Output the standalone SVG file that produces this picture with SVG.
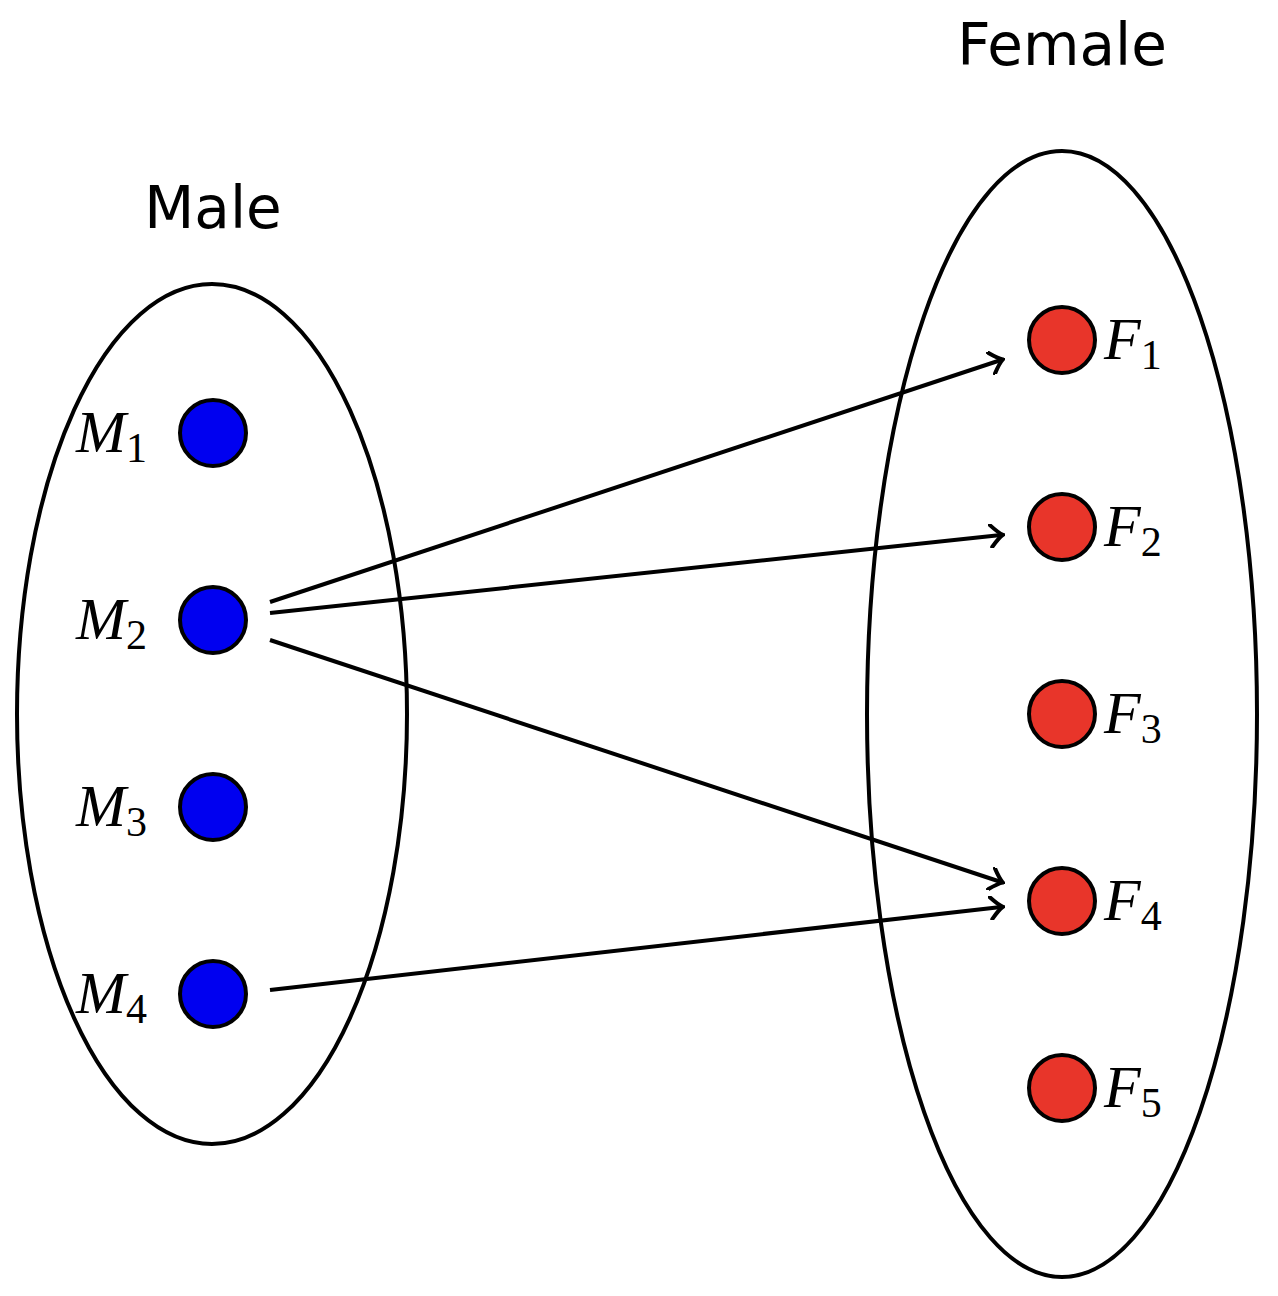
<svg xmlns="http://www.w3.org/2000/svg" width="1278" height="1296" viewBox="0 0 1278 1296">
<style>
.set{fill:none;stroke:#000;stroke-width:4}
.m{fill:#0000f0;stroke:#000;stroke-width:4}
.f{fill:#e8352a;stroke:#000;stroke-width:4}
.lab{font-family:"Liberation Serif",serif;font-style:italic;font-size:60px}
.sub{font-family:"Liberation Serif",serif;font-size:42px;font-style:normal}
.title{font-family:"DejaVu Sans","Liberation Sans",sans-serif;font-size:58px;text-anchor:middle}
.e{fill:none;stroke:#000;stroke-width:4;marker-end:url(#arr)}
</style>
<defs>
<marker id="arr" viewBox="-12 -12 16 24" markerWidth="16" markerHeight="24" refX="0" refY="0" orient="auto" markerUnits="userSpaceOnUse">
<path d="M-10,-11 Q-2,-2 2,0 Q-2,2 -10,11" fill="none" stroke="#000" stroke-width="4" stroke-linecap="round"/>
</marker>
</defs>
<text class="title" x="213" y="228">Male</text>
<text class="title" x="1062" y="65">Female</text>
<ellipse class="set" cx="212" cy="714" rx="195" ry="430"/>
<ellipse class="set" cx="1062" cy="714" rx="195" ry="563"/>
<g id="connectors">
<line class="e" x1="270" y1="602" x2="1001" y2="360"/>
<line class="e" x1="270" y1="613" x2="1001" y2="535"/>
<line class="e" x1="270" y1="640" x2="1001" y2="882"/>
<line class="e" x1="270" y1="990" x2="1001" y2="907"/>
</g>
<g id="M1"><circle class="m" cx="213" cy="433" r="33"/><text class="lab" x="76" y="452">M<tspan class="sub" dy="10">1</tspan></text></g>
<g id="M2"><circle class="m" cx="213" cy="620" r="33"/><text class="lab" x="76" y="639">M<tspan class="sub" dy="10">2</tspan></text></g>
<g id="M3"><circle class="m" cx="213" cy="807" r="33"/><text class="lab" x="76" y="826">M<tspan class="sub" dy="10">3</tspan></text></g>
<g id="M4"><circle class="m" cx="213" cy="994" r="33"/><text class="lab" x="76" y="1013">M<tspan class="sub" dy="10">4</tspan></text></g>
<g id="F1"><circle class="f" cx="1062" cy="340" r="33"/><text class="lab" x="1104" y="359">F<tspan class="sub" dy="10">1</tspan></text></g>
<g id="F2"><circle class="f" cx="1062" cy="527" r="33"/><text class="lab" x="1104" y="546">F<tspan class="sub" dy="10">2</tspan></text></g>
<g id="F3"><circle class="f" cx="1062" cy="714" r="33"/><text class="lab" x="1104" y="733">F<tspan class="sub" dy="10">3</tspan></text></g>
<g id="F4"><circle class="f" cx="1062" cy="901" r="33"/><text class="lab" x="1104" y="920">F<tspan class="sub" dy="10">4</tspan></text></g>
<g id="F5"><circle class="f" cx="1062" cy="1088" r="33"/><text class="lab" x="1104" y="1107">F<tspan class="sub" dy="10">5</tspan></text></g>
</svg>
